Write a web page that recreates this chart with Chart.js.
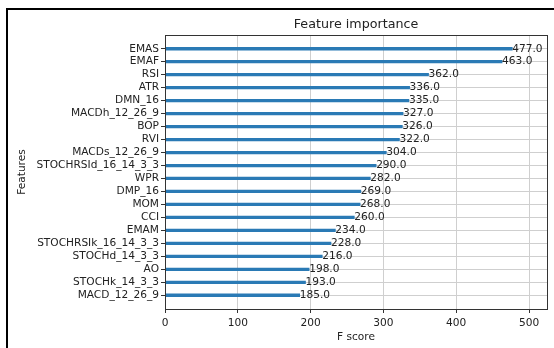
<!DOCTYPE html>
<html>
<head>
<meta charset="utf-8">
<script src="https://cdn.jsdelivr.net/npm/chart.js@4.4.0/dist/chart.umd.min.js"></script>
<style>
  html, body { margin: 0; padding: 0; background: #fff; }
  canvas { display: block; }
</style>
</head>
<body>
<canvas id="chart" width="554" height="348"></canvas>
<script>
// feature names, top to bottom
var features = ['EMAS', 'EMAF', 'RSI', 'ATR', 'DMN_16', 'MACDh_12_26_9', 'BOP', 'RVI',
  'MACDs_12_26_9', 'STOCHRSId_16_14_3_3', 'WPR', 'DMP_16', 'MOM', 'CCI', 'EMAM',
  'STOCHRSIk_16_14_3_3', 'STOCHd_14_3_3', 'AO', 'STOCHk_14_3_3', 'MACD_12_26_9'];
var fscores = [477, 463, 362, 336, 335, 327, 326, 322, 304, 290, 282, 269, 268, 260, 234,
  228, 216, 198, 193, 185];
var xTicks = [0, 100, 200, 300, 400, 500];

var FONT = 'DejaVu Sans';
var TEXT = '#222';
var FS = 10.6;

// outer frame + plot box + title + value labels
var extras = {
  id: 'extras',
  afterDraw: function(chart) {
    var c = chart.ctx, a = chart.chartArea;
    var xs = chart.scales.x, ys = chart.scales.y;
    c.save();
    // frame of the screenshot
    c.strokeStyle = '#000';
    c.lineWidth = 2;
    c.beginPath();
    c.moveTo(554, 9);
    c.lineTo(7, 9);
    c.lineTo(7, 348);
    c.stroke();
    // spines
    c.strokeStyle = '#333';
    c.lineWidth = 1;
    c.strokeRect(Math.round(a.left) + 0.5, Math.round(a.top) + 0.5,
      Math.round(a.right - a.left), Math.round(a.bottom - a.top));
    // title
    c.fillStyle = TEXT;
    c.font = '12.7px "' + FONT + '"';
    c.textAlign = 'center';
    c.textBaseline = 'middle';
    c.fillText('Feature importance', (a.left + a.right) / 2, 25);
    // value labels
    c.font = FS + 'px "' + FONT + '"';
    c.textAlign = 'left';
    fscores.forEach(function(v, i) {
      c.fillText(v.toFixed(1), xs.getPixelForValue(v), ys.getPixelForValue(i));
    });
    c.restore();
  }
};

new Chart(document.getElementById('chart').getContext('2d'), {
  type: 'bar',
  data: {
    datasets: [{
      data: fscores.map(function(v, i) { return { x: v, y: i }; }),
      backgroundColor: '#2a7ab5',
      barThickness: 2.6
    }]
  },
  options: {
    indexAxis: 'y',
    responsive: false,
    animation: false,
    layout: { padding: { left: 0, top: 35, right: 7, bottom: 0 } },
    plugins: { legend: { display: false }, tooltip: { enabled: false } },
    scales: {
      x: {
        type: 'linear',
        min: 0,
        max: 524.7,
        afterFit: function(s) { s.height = 39; },
        afterBuildTicks: function(s) { s.ticks = xTicks.map(function(v) { return { value: v }; }); },
        grid: { color: '#cfcfcf', lineWidth: 1, tickLength: 4, tickColor: '#333' },
        border: { display: false },
        ticks: { color: TEXT, font: { family: FONT, size: FS }, padding: 4, maxRotation: 0 },
        title: { display: true, text: 'F score', color: TEXT, font: { family: FONT, size: FS }, padding: { top: 0, bottom: 4 } }
      },
      y: {
        type: 'linear',
        reverse: true,
        offset: false,
        min: -1.06,
        max: 20.06,
        afterFit: function(s) { s.width = 165; },
        afterBuildTicks: function(s) { s.ticks = features.map(function(f, i) { return { value: i }; }); },
        grid: { offset: false, color: '#cfcfcf', lineWidth: 1, tickLength: 4, tickColor: '#333' },
        border: { display: false },
        ticks: {
          autoSkip: false,
          color: TEXT,
          font: { family: FONT, size: FS },
          padding: 2,
          callback: function(v) { return features[v]; }
        },
        title: { display: true, text: 'Features', color: TEXT, font: { family: FONT, size: FS }, padding: { top: 16, bottom: 0 } }
      }
    }
  },
  plugins: [extras]
});
</script>
</body>
</html>
